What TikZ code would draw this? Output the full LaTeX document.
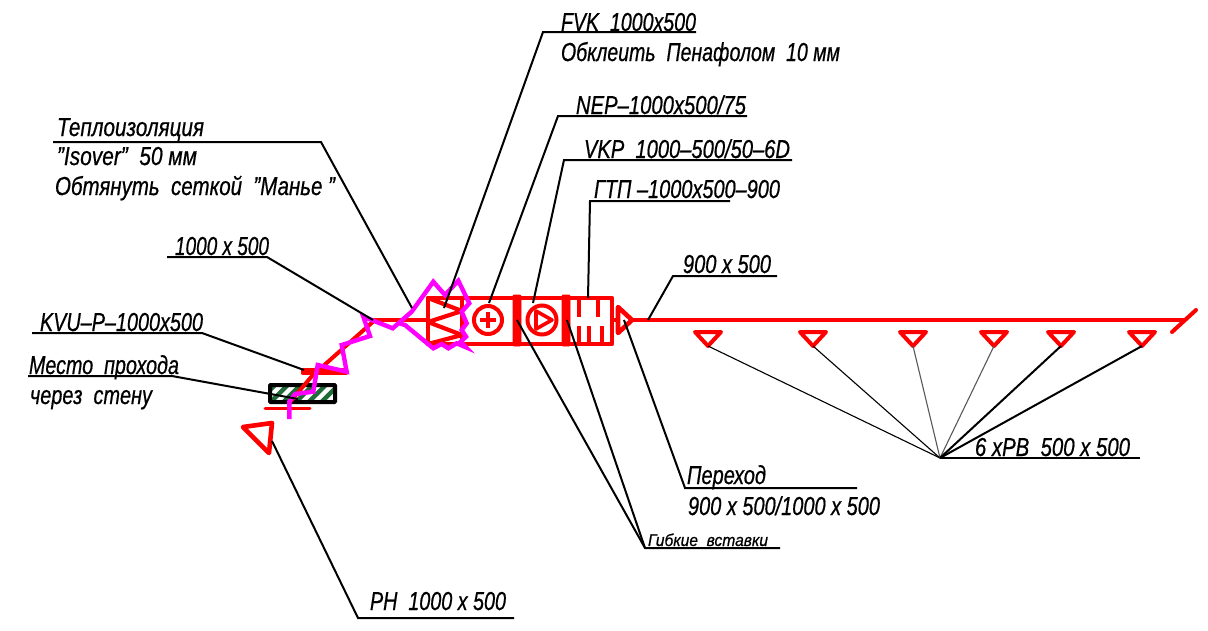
\documentclass[tikz,border=0pt]{standalone}
\usepackage{graphicx}
\usepackage{fontspec}
\setmainfont{Liberation Sans}[ItalicFeatures={FakeBold=0.7}]
\definecolor{cadred}{HTML}{FF0000}
\definecolor{cadmag}{HTML}{FF00FF}
\definecolor{cadgreen}{HTML}{1F6B3A}
\tikzset{
  lbl/.style={anchor=base west,inner sep=0pt,outer sep=0pt,text=black},
  leader/.style={draw=black,line width=2pt,line join=miter},
  thinleader/.style={draw=black,line width=1.1pt},
  greyleader/.style={draw=black!65,line width=1.1pt},
  duct/.style={draw=cadred,line width=4.6pt,line join=round,line cap=round},
  thinduct/.style={draw=cadred,line width=4pt,line join=round,line cap=round},
  bar/.style={fill=cadred,draw=cadred,line width=0.8pt,rounded corners=1pt},
  insul/.style={draw=cadmag,line width=4.4pt,line join=miter,line cap=butt},
}
\newcommand{\lab}[6]{\node[lbl,font=\fontsize{#5}{#5}\selectfont\itshape] (#1) at (#2,#3) {\resizebox{#4pt}{\height}{#6}};}
\begin{document}
\begin{tikzpicture}[x=1pt,y=-1pt]
\useasboundingbox (0,0) rectangle (1208,630);
\fill[white] (0,0) rectangle (1208,630);

% coordinates
\coordinate (ductW) at (375,320);
\coordinate (boxWm) at (428,320);
\coordinate (ductE) at (1183,320);
\coordinate (tipTrans) at (632,320);
\coordinate (hub) at (940,458);
\coordinate (hubEnd) at (1140,458);
\coordinate (flexHub) at (645,548);
\coordinate (flexEnd) at (780,548);
\coordinate (flexA) at (517,320);
\coordinate (flexB) at (567,320);

% === main duct ===
\draw[thinduct] (ductW) -- (boxWm);
\draw[thinduct] (ductW) -- (312,376);
\draw[thinduct,line width=3pt] (290,402) -- (289,408);
\draw[thinduct,line width=3pt] (265,408) -- (310,408);
\draw[thinduct] (612,320) -- (618,320);
\draw[thinduct] (tipTrans) -- (ductE);
\draw[thinduct] (1172,332) -- (1196,310);

% damper
\draw[duct,line width=4.4pt] (303,370) rectangle (346,373);

% wall passage
\begin{scope}
\clip (270,385) rectangle (335,402);
\foreach \k in {0,...,7}{
  \draw[cadgreen,line width=4.4pt] ({256+12.7*\k},404) -- ({256+12.7*\k+22},382);
}
\end{scope}
\draw[black,line width=4pt,rounded corners=0.8pt] (270,385) rectangle (335,402);
\draw[thinduct] (312,376) -- (290,402);

% equipment body
\draw[duct] (428,298) rectangle (612,344);
\draw[duct] (462,298) -- (462,344);
\draw[duct,line width=4.2pt] (428,298) -- (462,311) -- (428,322) -- (462,335) -- (428,344);
\draw[draw=cadred,line width=4pt] (488,320) circle (14);
\draw[draw=cadred,line width=4pt] (488,312) -- (488,328) (480,320) -- (496,320);
\draw[draw=cadred,line width=4pt] (542,320) circle (14.5);
\draw[draw=cadred,line width=3.6pt,line join=round] (536,311) -- (552,320) -- (536,329) -- cycle;
\fill[bar] (513,295) rectangle (521,346);
\fill[bar] (562,295) rectangle (570,346);
\foreach \xx in {579,598}{\draw[draw=cadred,line width=3.4pt] (\xx,298) -- (\xx,317);}
\foreach \xx in {579,589,602}{\draw[draw=cadred,line width=3.4pt] (\xx,326) -- (\xx,344);}
\draw[duct] (618,307) -- (tipTrans) -- (618,333) -- cycle;

% grilles
\foreach \nm/\xx in {a/708,b/813,c/913,d/994,e/1061,f/1142}{
  \draw[duct,line width=4pt] ({\xx-13},332) -- ({\xx+13},332) -- (\xx,346) -- cycle;
  \coordinate (grille\nm) at (\xx,346);
}
% intake hood
\draw[duct] (243,427) -- (272,423) -- (269,453) -- cycle;

% insulation outline
\draw[insul] (289.3,419) -- (289.3,401.7) -- (295,394) -- (313.3,391.7) -- (317.7,365)
 -- (346.7,371.7) -- (341.7,345) -- (370,336) -- (363.3,316.7) -- (392.7,328.3)
 -- (411.7,311.7) -- (433.3,281.7) -- (445,295) -- (458.3,280.7) -- (469.3,303.3)
 -- (461.7,311.7) -- (466.7,323.3) -- (461.7,330) -- (466,336.7) -- (460.7,341.7)
 -- (466,347.3) -- (456.7,343.3) -- (448.3,348.3) -- (441.7,344) -- (433.3,348.3)
 -- (405,325) -- (398,323);

% === labels ===
\lab{fvk}{561}{31}{135}{26}{FVK\ \ 1000x500}
\lab{fvkb}{561}{61}{279}{26}{Обклеить\ \ Пенафолом\ \ 10 мм}
\lab{nep}{576}{114}{170}{26}{NEP–1000x500/75}
\lab{vkp}{584}{158}{206}{26}{VKP\ \ 1000–500/50–6D}
\lab{gtp}{594}{198}{186}{26}{ГТП –1000x500–900}
\lab{sz}{683}{273}{88}{26}{900 x 500}
\lab{tep}{57}{136}{147}{26}{Теплоизоляция}
\lab{iso}{57}{165}{140}{26}{"Isover"\ \ 50 мм}
\lab{obt}{55}{195}{280}{26}{Обтянуть\ \ сеткой\ \ "Манье "}
\lab{ks}{175}{255}{94}{26}{1000 x 500}
\lab{kvu}{40}{331}{163}{26}{KVU–P–1000x500}
\lab{mes}{29}{374}{150}{26}{Место\ \ прохода}
\lab{che}{30}{404}{122}{26}{через\ \ стену}
\lab{pn}{370}{610}{136}{26}{РН\ \ 1000 x 500}
\lab{per}{687}{484}{79}{26}{Переход}
\lab{perb}{688}{515}{192}{26}{900 x 500/1000 x 500}
\lab{gib}{648}{546}{120}{17}{Гибкие\ \ вставки}
\lab{rv}{975}{456}{155}{26}{6 xРВ\ \ 500 x 500}

% === leaders ===
\draw[leader] (696,32) -- (543,32) -- (444,308);
\draw[leader] (747,116) -- (558,116) -- (489,303);
\draw[leader] (792,160) -- (564,160) -- (533,303);
\draw[leader] (730,201) -- (590,201) -- (588,298);
\draw[leader] (777,276) -- (673,276) -- (648,320);
\draw[leader] (53,142) -- (321,142) -- (412,308);
\draw[leader] (167,257) -- (267,257) -- (373,320);
\draw[leader] (32,333) -- (202,333) -- (304,370);
\draw[leader] (28,376) -- (172,376) -- (298,399);
\draw[leader] (514,618) -- (358,618) -- (272,441);
\draw[leader] (857,488) -- (685,488) -- (624,320);
\draw[leader] (flexEnd) -- (flexHub) -- (flexA);
\draw[leader] (flexHub) -- (flexB);
\draw[leader] (hubEnd) -- (hub);
\draw[thinleader] (hub) -- (grillea);
\draw[thinleader] (hub) -- (grilleb);
\draw[greyleader] (hub) -- (grillec);
\draw[greyleader] (hub) -- (grilled);
\draw[leader] (hub) -- (grillee);
\draw[leader] (hub) -- (grillef);
\end{tikzpicture}
\end{document}
